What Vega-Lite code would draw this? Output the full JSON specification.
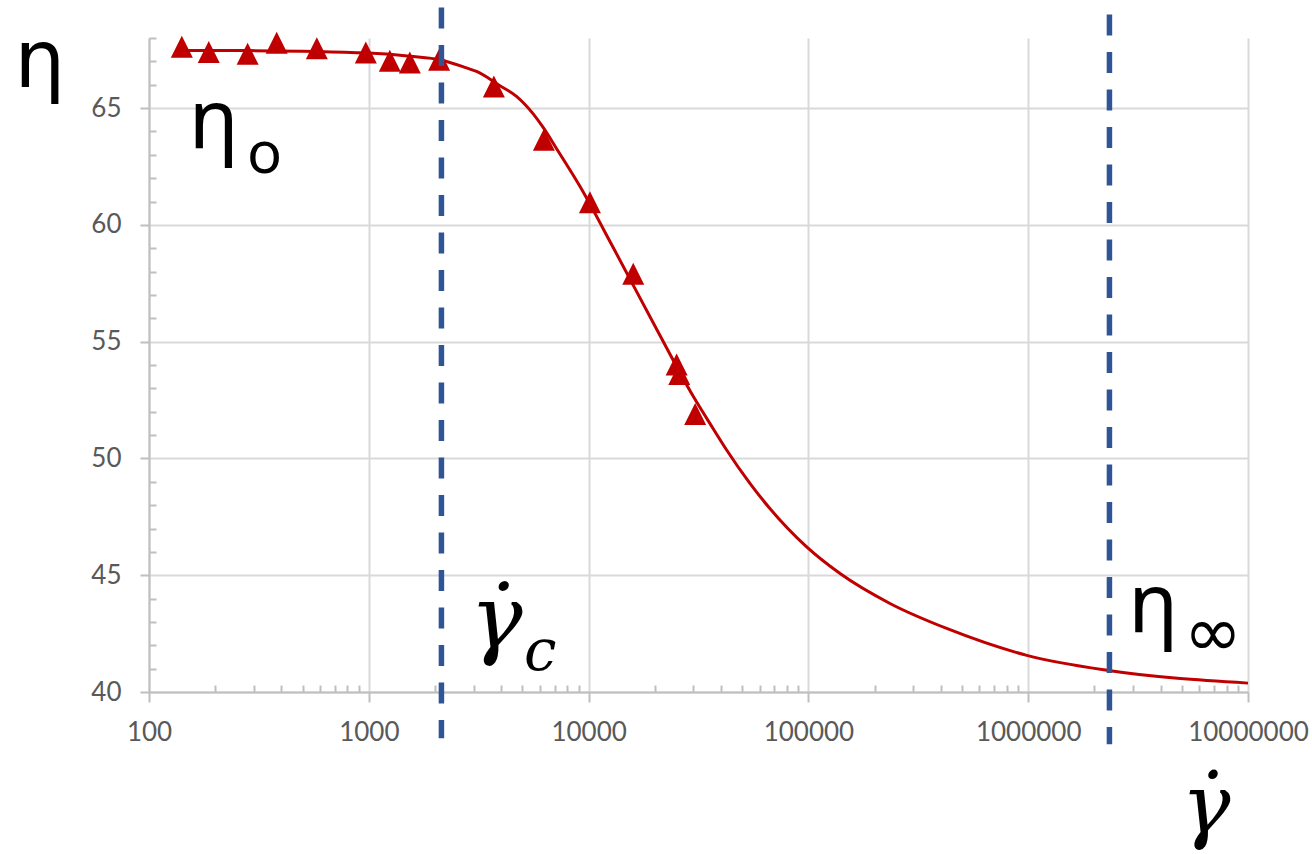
{
  "$schema": "https://vega.github.io/schema/vega-lite/v6.json",
  "autosize": "none",
  "width": 1099,
  "height": 654,
  "padding": {"left": 149, "top": 38, "right": 64, "bottom": 162},
  "background": "white",
  "view": {"stroke": null},
  "datasets": {
    "fit": [
      {"x": 141, "y": 67.47},
      {"x": 287, "y": 67.46},
      {"x": 1000, "y": 67.36},
      {"x": 1537, "y": 67.22},
      {"x": 2130, "y": 67.06},
      {"x": 2784, "y": 66.72},
      {"x": 3092, "y": 66.57},
      {"x": 3948, "y": 65.96},
      {"x": 4699, "y": 65.5},
      {"x": 5597, "y": 64.75},
      {"x": 6212, "y": 64.17},
      {"x": 7152, "y": 63.26},
      {"x": 9129, "y": 61.65},
      {"x": 12940, "y": 59.03},
      {"x": 20400, "y": 55.53},
      {"x": 29920, "y": 52.66},
      {"x": 36900, "y": 51.27},
      {"x": 42460, "y": 50.36},
      {"x": 54200, "y": 48.93},
      {"x": 98200, "y": 46.21},
      {"x": 139300, "y": 45.07},
      {"x": 235000, "y": 43.79},
      {"x": 425800, "y": 42.72},
      {"x": 986000, "y": 41.57},
      {"x": 2281000, "y": 40.93},
      {"x": 10000000, "y": 40.38}
    ],
    "measured": [
      {"x": 141, "y": 67.63},
      {"x": 187, "y": 67.4},
      {"x": 281, "y": 67.33},
      {"x": 381, "y": 67.8},
      {"x": 580, "y": 67.56},
      {"x": 969, "y": 67.38},
      {"x": 1246, "y": 67.03},
      {"x": 1537, "y": 66.95},
      {"x": 2089, "y": 67.07},
      {"x": 3707, "y": 65.92},
      {"x": 6261, "y": 63.64},
      {"x": 10139, "y": 60.97},
      {"x": 15960, "y": 57.91},
      {"x": 25150, "y": 54.02},
      {"x": 25840, "y": 53.62},
      {"x": 30550, "y": 51.9}
    ],
    "guides": [
      {"x": 2140, "y": 69.31, "y2": 38.02},
      {"x": 2342000, "y": 69.01, "y2": 37.76}
    ],
    "eta": [
      {"t": "η", "x": 151.6, "y": 63.27},
      {"t": "η", "x": 2850000, "y": 42.56}
    ],
    "sub_o": [{"t": "o", "x": 279, "y": 62.2}],
    "sub_inf": [{"t": "∞", "x": 5100000, "y": 41.53}],
    "gamma": [{"t": "γ̇", "x": 2884, "y": 41.87}],
    "sub_c": [{"t": "c", "x": 5077, "y": 40.93}]
  },
  "encoding": {
    "x": {
      "field": "x",
      "type": "quantitative",
      "scale": {"type": "log", "domain": [100, 10000000], "nice": false},
      "axis": {
        "title": "γ̇",
        "values": [100, 200, 300, 400, 500, 600, 700, 800, 900,
                   1000, 2000, 3000, 4000, 5000, 6000, 7000, 8000, 9000,
                   10000, 20000, 30000, 40000, 50000, 60000, 70000, 80000, 90000,
                   100000, 200000, 300000, 400000, 500000, 600000, 700000, 800000, 900000,
                   1000000, 2000000, 3000000, 4000000, 5000000, 6000000, 7000000, 8000000, 9000000,
                   10000000],
        "labelExpr": "abs(log(datum.value)/LN10 - round(log(datum.value)/LN10)) < 0.000001 ? format(datum.value, 'd') : ''",
        "tickSize": {"condition": {"test": "abs(log(datum.value)/LN10 - round(log(datum.value)/LN10)) < 0.000001", "value": 10}, "value": -7},
        "gridOpacity": {"condition": {"test": "abs(log(datum.value)/LN10 - round(log(datum.value)/LN10)) < 0.000001", "value": 1}, "value": 0},
        "labelFont": "Lato",
        "labelFontSize": 26,
        "labelColor": "#595959",
        "labelBaseline": "alphabetic",
        "labelPadding": 38,
        "labelAlign": "center",
        "labelOverlap": false,
        "labelFlush": false,
        "domainColor": "#bfbfbf",
        "domainWidth": 2,
        "tickColor": "#bfbfbf",
        "tickWidth": 2,
        "grid": true,
        "gridColor": "#d9d9d9",
        "gridWidth": 2,
        "titleFont": "DejaVu Serif",
        "titleFontStyle": "italic",
        "titleFontWeight": "normal",
        "titleFontSize": 82,
        "titleColor": "black",
        "titleX": 1032,
        "titleY": 140,
        "titleAlign": "left",
        "titleBaseline": "alphabetic"
      }
    },
    "y": {
      "field": "y",
      "type": "quantitative",
      "scale": {"domain": [40, 68], "nice": false, "zero": false},
      "axis": {
        "title": "η",
        "values": [40, 41, 42, 43, 44, 45, 46, 47, 48, 49, 50, 51, 52, 53, 54, 55, 56, 57, 58, 59, 60, 61, 62, 63, 64, 65, 66, 67, 68],
        "labelExpr": "datum.value % 5 === 0 ? datum.label : ''",
        "tickSize": {"condition": {"test": "datum.value % 5 === 0", "value": 9}, "value": -7},
        "gridOpacity": {"condition": {"test": "datum.value % 5 === 0", "value": 1}, "value": 0},
        "labelFont": "Lato",
        "labelFontSize": 26,
        "labelColor": "#595959",
        "labelBaseline": "middle",
        "labelPadding": 19,
        "labelOverlap": false,
        "labelFlush": false,
        "domainColor": "#bfbfbf",
        "domainWidth": 2,
        "tickColor": "#bfbfbf",
        "tickWidth": 2,
        "grid": true,
        "gridColor": "#d9d9d9",
        "gridWidth": 2,
        "titleFont": "DejaVu Sans",
        "titleFontWeight": "normal",
        "titleFontSize": 80,
        "titleColor": "black",
        "titleAngle": 0,
        "titleX": -135,
        "titleY": 48,
        "titleAlign": "left",
        "titleBaseline": "alphabetic"
      }
    }
  },
  "layer": [
    {
      "data": {"name": "fit"},
      "mark": {"type": "line", "color": "#c00000", "strokeWidth": 3, "interpolate": "monotone"}
    },
    {
      "data": {"name": "measured"},
      "mark": {"type": "point", "shape": "M0,-1L1,1L-1,1Z", "filled": true, "color": "#c00000", "opacity": 1, "size": 484}
    },
    {
      "data": {"name": "eta"},
      "mark": {"type": "text", "font": "Noto Sans", "fontSize": 82, "align": "left", "baseline": "alphabetic", "color": "black"},
      "encoding": {"text": {"field": "t"}}
    },
    {
      "data": {"name": "sub_o"},
      "mark": {"type": "text", "font": "Noto Sans", "fontSize": 58, "align": "left", "baseline": "alphabetic", "color": "black"},
      "encoding": {"text": {"field": "t"}}
    },
    {
      "data": {"name": "sub_inf"},
      "mark": {"type": "text", "font": "DejaVu Sans", "fontSize": 70, "align": "left", "baseline": "alphabetic", "color": "black"},
      "encoding": {"text": {"field": "t"}}
    },
    {
      "data": {"name": "gamma"},
      "mark": {"type": "text", "font": "DejaVu Serif", "fontStyle": "italic", "fontSize": 88, "align": "left", "baseline": "alphabetic", "color": "black"},
      "encoding": {"text": {"field": "t"}}
    },
    {
      "data": {"name": "sub_c"},
      "mark": {"type": "text", "font": "DejaVu Serif", "fontStyle": "italic", "fontSize": 58, "align": "left", "baseline": "alphabetic", "color": "black"},
      "encoding": {"text": {"field": "t"}}
    },
    {
      "data": {"name": "guides"},
      "mark": {"type": "rule", "color": "#2f5597", "strokeWidth": 5.5, "strokeDash": [21, 16.5]},
      "encoding": {
        "y2": {"field": "y2"}
      }
    }
  ]
}
